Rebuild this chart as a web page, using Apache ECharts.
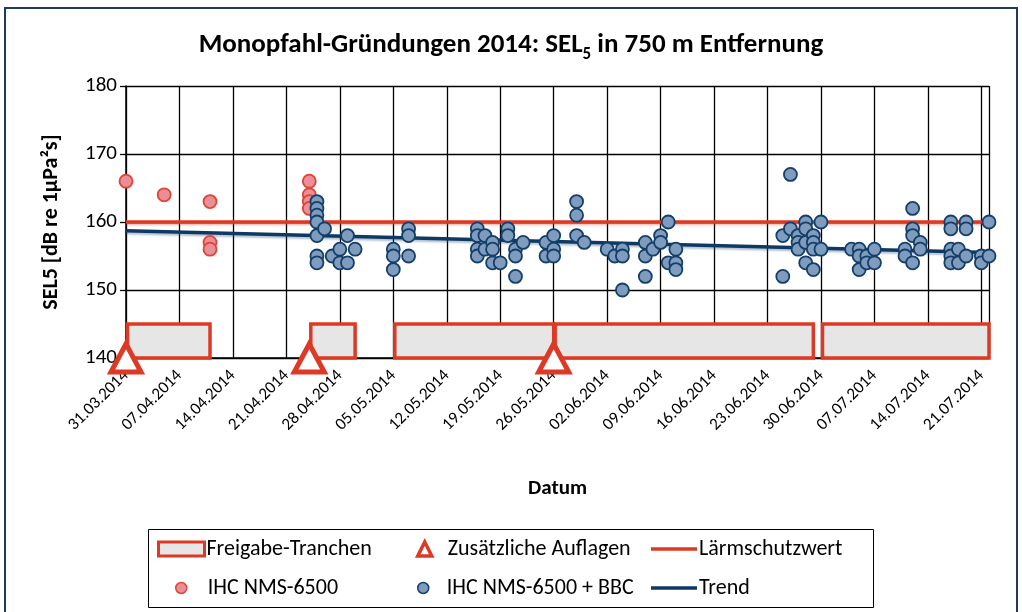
<!DOCTYPE html>
<html>
<head>
<meta charset="utf-8">
<script src="https://cdn.jsdelivr.net/npm/echarts@6/dist/echarts.min.js"></script>
<style>
  html, body { margin: 0; padding: 0; background: #ffffff; }
  #chart { width: 1022px; height: 612px; }
</style>
</head>
<body>
<div id="chart"></div>
<script>
// ---- data ---------------------------------------------------------------
const axisStart = '2014-03-31';
const axisEnd = '2014-07-22';
const yTicks = [140, 150, 160, 170, 180];

// IHC NMS-6500 (without bubble curtain): measurement days and SEL5 values
const nmsDays = ['2014-03-31', '2014-04-05', '2014-04-11', '2014-04-24'];
const nmsValues = [[166], [164], [163, 157, 156], [166, 164, 163, 162]];

// IHC NMS-6500 + BBC: measurement days and SEL5 values
const bbcDays = [
  '2014-04-25', '2014-04-26', '2014-04-27', '2014-04-28', '2014-04-29', '2014-04-30',
  '2014-05-05', '2014-05-07', '2014-05-16', '2014-05-17', '2014-05-18', '2014-05-19',
  '2014-05-20', '2014-05-21', '2014-05-22', '2014-05-25', '2014-05-26', '2014-05-29',
  '2014-05-30', '2014-06-02', '2014-06-03', '2014-06-04', '2014-06-07', '2014-06-08',
  '2014-06-09', '2014-06-10', '2014-06-11', '2014-06-25', '2014-06-26', '2014-06-27',
  '2014-06-28', '2014-06-29', '2014-06-30', '2014-07-04', '2014-07-05', '2014-07-06',
  '2014-07-07', '2014-07-11', '2014-07-12', '2014-07-13', '2014-07-17', '2014-07-18',
  '2014-07-19', '2014-07-21', '2014-07-22'
];
const bbcValues = [
  [163, 162, 161, 160, 158, 155, 154], [159], [155], [156, 154], [158, 154], [156],
  [156, 155, 153], [159, 158, 155], [159, 158, 156, 155], [158, 156], [157, 156, 154], [154],
  [159, 158], [156, 155, 152], [157], [157, 155], [158, 156, 155], [163, 161, 158],
  [157], [156], [155], [156, 155, 150], [157, 155, 152], [156],
  [158, 157], [160, 154], [156, 154, 153], [158, 152], [167, 159], [158, 157, 156],
  [160, 159, 157, 154], [158, 157, 156, 153], [160, 156], [156], [156, 155, 153], [155, 154],
  [156, 154], [156, 155], [162, 159, 158, 154], [157, 156], [160, 159, 156, 155, 154], [156, 154],
  [160, 159, 155], [155, 154], [160, 155]
];

// Release tranches (start, end) and their band on the SEL axis
const trancheStarts = ['2014-03-31', '2014-04-24', '2014-05-05', '2014-05-26', '2014-06-30'];
const trancheEnds   = ['2014-04-11', '2014-04-30', '2014-05-26', '2014-06-29', '2014-07-22'];
const trancheBand = [140, 145];

// Additional requirements (dates), drawn on the lower axis edge
const auflagenDays = ['2014-03-31', '2014-04-24', '2014-05-26'];
const auflagenLevel = 140;

// Noise protection limit and linear trend (start / end value)
const limitValue = 160;
const trendValues = [158.7, 155.5];

// ---- helpers ------------------------------------------------------------
const DAY = 86400000;
function toUTC(s) { const p = s.split('-').map(Number); return Date.UTC(p[0], p[1] - 1, p[2]); }
const origin = toUTC(axisStart);
function dayIndex(s) { return Math.round((toUTC(s) - origin) / DAY); }
function pad(n) { return (n < 10 ? '0' : '') + n; }
function fmtDay(v) {
  const d = new Date(origin + v * DAY);
  return pad(d.getUTCDate()) + '.' + pad(d.getUTCMonth() + 1) + '.' + d.getUTCFullYear();
}
function expand(days, values) {
  const out = [];
  days.forEach((d, i) => values[i].forEach(v => out.push([dayIndex(d), v])));
  return out;
}

const xMax = dayIndex(axisEnd);
const RED = '#DD3A25';
const NAVY = '#0E3962';
const FONT = 'Carlito, Lato, sans-serif';

const trancheData = trancheStarts.map((s, i) => [dayIndex(s), dayIndex(trancheEnds[i]), trancheBand[0], trancheBand[1]]);

const chart = echarts.init(document.getElementById('chart'), null, { renderer: 'canvas' });

function legendAt(left, top, w, h, textGap, item) {
  return { left: left, top: top, padding: 0, itemWidth: w, itemHeight: h, itemGap: 0,
           textStyle: { fontFamily: FONT, fontSize: 22, color: '#000', padding: [0, 0, 0, textGap] },
           selectedMode: false, data: [item] };
}

chart.setOption({
  animation: false,
  backgroundColor: '#ffffff',
  textStyle: { fontFamily: FONT },
  title: {
    text: '{t|Monopfahl-Gründungen 2014: SEL}{s|5}{t| in 750 m Entfernung}',
    left: 'center',
    top: 23,
    textStyle: {
      rich: {
        t: { fontFamily: FONT, fontSize: 27, fontWeight: 'bold', color: '#000', lineHeight: 35 },
        s: { fontFamily: FONT, fontSize: 17, fontWeight: 'bold', color: '#000', lineHeight: 17, verticalAlign: 'bottom' }
      }
    }
  },
  graphic: [
    { type: 'rect', z: -1, shape: { x: 5, y: 8, width: 1012, height: 640 },
      style: { fill: 'none', stroke: '#1F3A5F', lineWidth: 2 } },
    { type: 'rect', z: -1, shape: { x: 148.5, y: 529.5, width: 725, height: 78 },
      style: { fill: 'none', stroke: '#000', lineWidth: 1 } }
  ],
  grid: { left: 126, top: 86, width: 863, height: 272, containLabel: false },
  xAxis: {
    type: 'value',
    min: 0,
    max: xMax,
    interval: 7,
    name: 'Datum',
    nameLocation: 'middle',
    nameGap: 120,
    nameTextStyle: { fontFamily: FONT, fontSize: 21, fontWeight: 'bold', color: '#000' },
    axisLine: { show: true, lineStyle: { color: '#000', width: 1.5 } },
    axisTick: { show: false },
    splitLine: { show: true, lineStyle: { color: '#000', width: 1.3 } },
    axisLabel: {
      rotate: 45,
      margin: 15,
      fontFamily: FONT,
      fontSize: 17,
      color: '#000',
      showMaxLabel: false,
      formatter: v => (v % 7 === 0 ? fmtDay(v) : '')
    }
  },
  yAxis: {
    type: 'value',
    min: yTicks[0],
    max: yTicks[yTicks.length - 1],
    interval: 10,
    name: 'SEL5 [dB re 1µPa²s]',
    nameLocation: 'middle',
    nameRotate: 90,
    nameGap: 64,
    nameTextStyle: { fontFamily: FONT, fontSize: 22, fontWeight: 'bold', color: '#000' },
    axisLine: { show: true, lineStyle: { color: '#000', width: 1.5 } },
    axisTick: { show: true, inside: false, length: 6, lineStyle: { color: '#000', width: 1.3 } },
    splitLine: { show: true, lineStyle: { color: '#000', width: 1.3 } },
    axisLabel: { margin: 9, fontFamily: FONT, fontSize: 21, color: '#000' }
  },
  legend: [
    legendAt(157, 538, 46, 14, -3, { name: 'Freigabe-Tranchen', icon: 'rect',
      itemStyle: { color: '#E6E6E6', borderColor: RED, borderWidth: 3 } }),
    legendAt(416, 538, 14, 14, 11, { name: 'Zusätzliche Auflagen', icon: 'triangle',
      itemStyle: { color: '#fff', borderColor: RED, borderWidth: 3.5 } }),
    legendAt(651, 538, 46, 3.5, -3, { name: 'Lärmschutzwert', icon: 'rect',
      itemStyle: { color: RED, borderWidth: 0 } }),
    legendAt(175, 577, 11, 11, 16, { name: 'IHC NMS-6500', icon: 'circle',
      itemStyle: { color: '#EA8F97', borderColor: '#E04434', borderWidth: 1.5 } }),
    legendAt(417, 577, 11, 11, 13, { name: 'IHC NMS-6500 + BBC', icon: 'circle',
      itemStyle: { color: '#7F9BBE', borderColor: '#133F69', borderWidth: 1.5 } }),
    legendAt(651, 577, 46, 3.5, -3, { name: 'Trend', icon: 'rect',
      itemStyle: { color: NAVY, borderWidth: 0 } })
  ],
  series: [
    {
      name: 'Lärmschutzwert',
      type: 'line',
      symbol: 'none',
      data: [[0, limitValue], [xMax, limitValue]],
      lineStyle: { color: RED, width: 3.5, shadowColor: 'rgba(221,58,37,0.35)', shadowBlur: 2, shadowOffsetY: 1.5 },
      itemStyle: { color: RED },
      z: 3
    },
    {
      name: 'Trend',
      type: 'line',
      symbol: 'none',
      data: [[0, trendValues[0]], [xMax, trendValues[1]]],
      lineStyle: { color: NAVY, width: 3.5, shadowColor: 'rgba(40,80,130,0.35)', shadowBlur: 2, shadowOffsetY: 2 },
      itemStyle: { color: NAVY },
      z: 3
    },
    {
      name: 'Freigabe-Tranchen',
      type: 'custom',
      data: trancheData,
      encode: { x: [0, 1], y: [2, 3] },
      renderItem: function (params, api) {
        const p0 = api.coord([api.value(0), api.value(3)]);
        const p1 = api.coord([api.value(1), api.value(2)]);
        return {
          type: 'rect',
          shape: { x: p0[0] + 1.5, y: p0[1], width: p1[0] - p0[0] - 1.5, height: p1[1] - p0[1] },
          style: { fill: '#E6E6E6', stroke: RED, lineWidth: 3.5 }
        };
      },
      itemStyle: { color: '#E6E6E6', borderColor: RED },
      z: 4
    },
    {
      name: 'Zusätzliche Auflagen',
      type: 'scatter',
      symbol: 'triangle',
      symbolSize: [30, 28],
      clip: false,
      data: auflagenDays.map(d => [dayIndex(d), auflagenLevel]),
      itemStyle: { color: '#ffffff', borderColor: RED, borderWidth: 5, opacity: 1 },
      z: 5
    },
    {
      name: 'IHC NMS-6500',
      type: 'scatter',
      symbol: 'circle',
      symbolSize: 13,
      data: expand(nmsDays, nmsValues),
      itemStyle: { color: '#EA8F97', borderColor: '#E04434', borderWidth: 1.8, opacity: 1 },
      z: 6
    },
    {
      name: 'IHC NMS-6500 + BBC',
      type: 'scatter',
      symbol: 'circle',
      symbolSize: 13,
      data: expand(bbcDays, bbcValues),
      itemStyle: { color: '#7F9BBE', borderColor: '#133F69', borderWidth: 1.8, opacity: 1 },
      z: 6
    }
  ]
});
</script>
</body>
</html>
